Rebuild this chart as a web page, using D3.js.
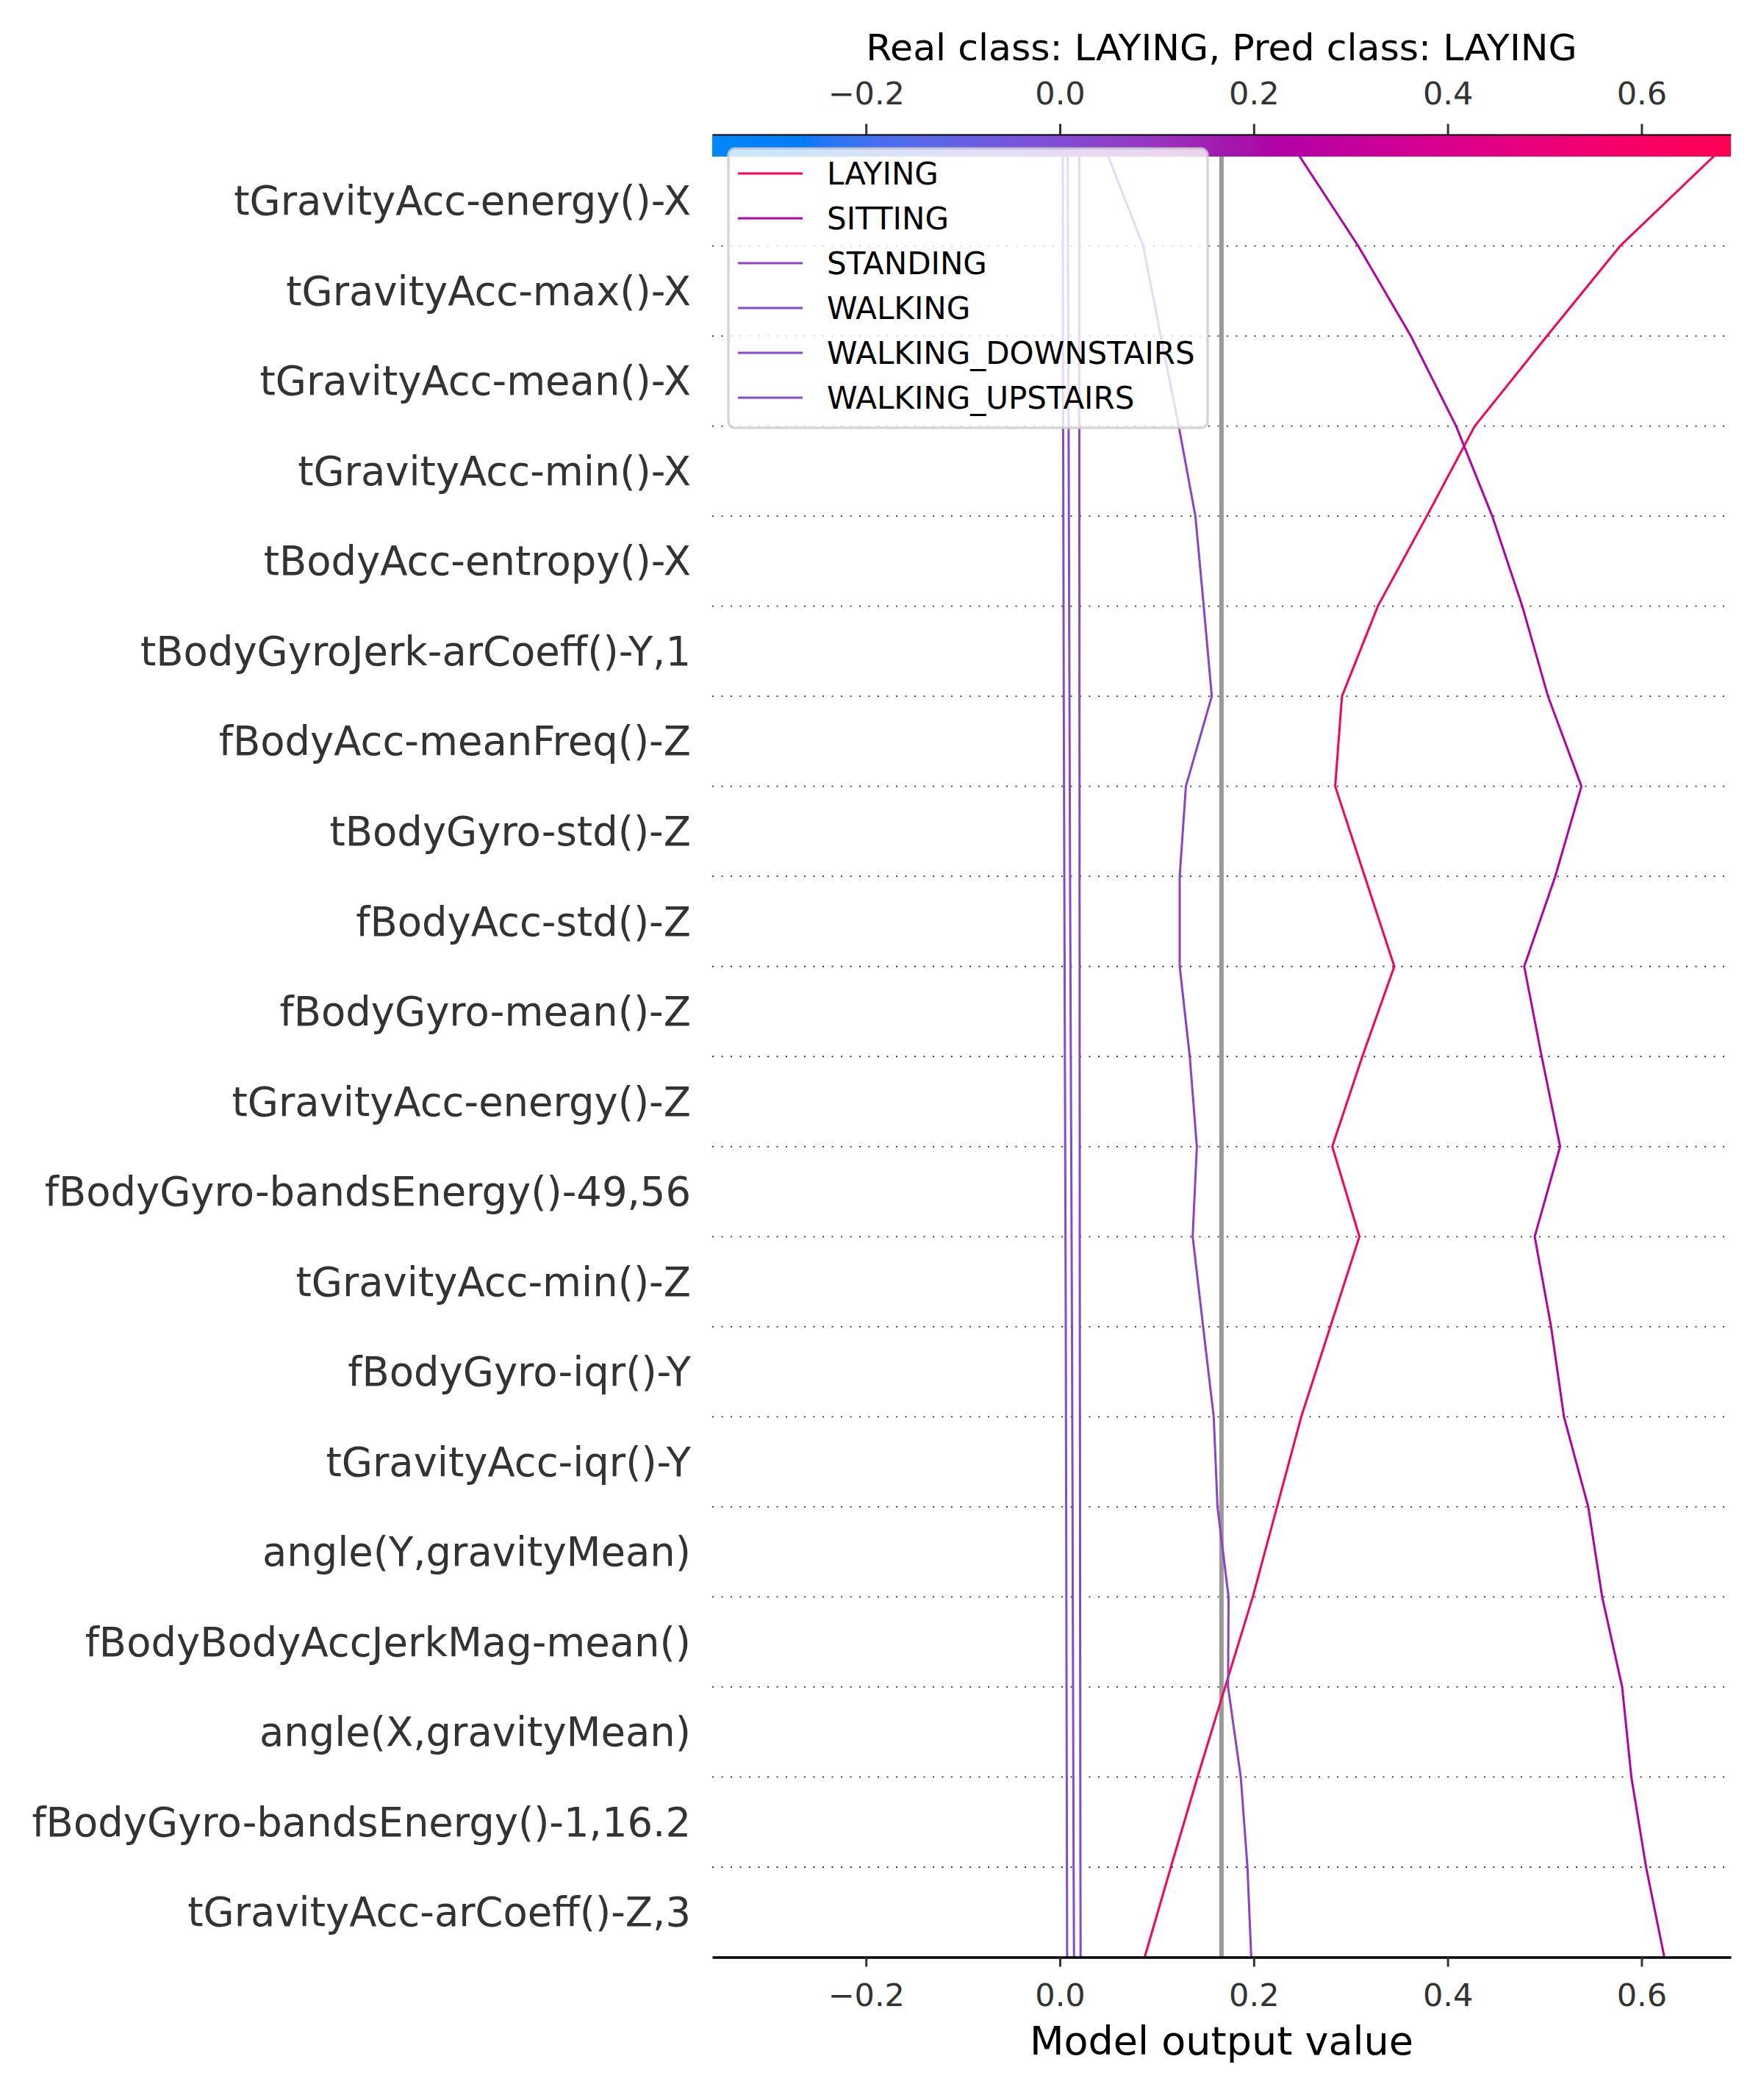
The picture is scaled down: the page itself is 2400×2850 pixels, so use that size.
<!DOCTYPE html>
<html>
<head>
<meta charset="utf-8">
<script src="https://cdn.jsdelivr.net/npm/d3@7"></script>
<style>
  body { margin: 0; background: #ffffff; }
  svg { display: block; }
  text { font-family: "DejaVu Sans", sans-serif; }
</style>
</head>
<body>
<svg id="chart" width="2400" height="2850"></svg>
<script>
// ---------------- DATA ----------------
// Feature names, top to bottom
const features = [
  "tGravityAcc-energy()-X",
  "tGravityAcc-max()-X",
  "tGravityAcc-mean()-X",
  "tGravityAcc-min()-X",
  "tBodyAcc-entropy()-X",
  "tBodyGyroJerk-arCoeff()-Y,1",
  "fBodyAcc-meanFreq()-Z",
  "tBodyGyro-std()-Z",
  "fBodyAcc-std()-Z",
  "fBodyGyro-mean()-Z",
  "tGravityAcc-energy()-Z",
  "fBodyGyro-bandsEnergy()-49,56",
  "tGravityAcc-min()-Z",
  "fBodyGyro-iqr()-Y",
  "tGravityAcc-iqr()-Y",
  "angle(Y,gravityMean)",
  "fBodyBodyAccJerkMag-mean()",
  "angle(X,gravityMean)",
  "fBodyGyro-bandsEnergy()-1,16.2",
  "tGravityAcc-arCoeff()-Z,3"
];

const classNames = ["LAYING", "SITTING", "STANDING", "WALKING", "WALKING_DOWNSTAIRS", "WALKING_UPSTAIRS"];

// Cumulative model output per class, listed from the bottom of the plot (index 0) to the top (index 20)
const laying = [0.0875, 0.1145, 0.142, 0.1705, 0.199, 0.224, 0.249, 0.279, 0.309, 0.281, 0.312,
                0.345, 0.3145, 0.284, 0.291, 0.328, 0.3785, 0.428, 0.5025, 0.578, 0.675];
const sitting = [0.6235, 0.6047, 0.5895, 0.580, 0.5594, 0.545, 0.520, 0.5067, 0.4898, 0.516, 0.497,
                 0.479, 0.511, 0.538, 0.5035, 0.477, 0.446, 0.4087, 0.362, 0.3077, 0.247];
const standing = [0.1974, 0.1935, 0.1866, 0.1735, 0.174, 0.1626, 0.1587, 0.1478, 0.137, 0.1413, 0.134,
                  0.1236, 0.1236, 0.130, 0.1567, 0.1484, 0.1398, 0.1226, 0.104, 0.0859, 0.0497];
const walking = [0.0075, 0.0073, 0.0071, 0.0069, 0.0067, 0.0065, 0.0063, 0.0061, 0.0058, 0.0055, 0.0052,
                 0.0049, 0.0046, 0.0043, 0.0040, 0.0038, 0.0036, 0.0034, 0.0032, 0.0031, 0.0030];
const walkingDownstairs = [0.0214, 0.0212, 0.0211, 0.0210, 0.0209, 0.0208, 0.0207, 0.0206, 0.0205, 0.0205, 0.0204,
                           0.0204, 0.0203, 0.0203, 0.0202, 0.0202, 0.0201, 0.0201, 0.0200, 0.0200, 0.0200];
const walkingUpstairs = [0.0146, 0.0142, 0.0139, 0.0136, 0.0133, 0.0131, 0.0128, 0.0125, 0.0121, 0.0117, 0.0113,
                         0.0109, 0.0105, 0.0102, 0.0099, 0.0096, 0.0093, 0.0090, 0.0087, 0.0083, 0.0080];

const baseValue = 0.1667;
const xTicks = [-0.2, 0.0, 0.2, 0.4, 0.6];
const xDomain = [-0.3586, 0.6922];
const titleText = "Real class: LAYING, Pred class: LAYING";
const xLabelText = "Model output value";

const seriesList = [laying, sitting, standing, walking, walkingDownstairs, walkingUpstairs];

// ---------------- LAYOUT ----------------
const plot = { left: 969, right: 2355, top: 212, bottom: 2662.5 };
const cbar = { top: 183, height: 30 };

const svg = d3.select("#chart");
svg.append("rect").attr("width", 2400).attr("height", 2850).attr("fill", "#ffffff");

const x = d3.scaleLinear().domain(xDomain).range([plot.left, plot.right]);
const nF = features.length;
const y = d3.scaleLinear().domain([0, nF]).range([plot.bottom, plot.top]);

// shap red_blue colormap (LCH interpolation)
function cmap(t) {
  t = Math.max(0, Math.min(1, t));
  const h = 266.93 + t * (380.32 - 266.93);
  const c = 70 + 20 * t;
  const l = t < 0.5 ? 54 - 28 * t : 40 + 28 * (t - 0.5);
  return d3.hcl(h, c, l).formatHex();
}
const colorFor = v => cmap((v - xDomain[0]) / (xDomain[1] - xDomain[0]));

// ---------------- GRID ----------------
const grid = svg.append("g");
d3.range(1, nF).forEach(k => {
  grid.append("line")
    .attr("x1", plot.left).attr("x2", plot.right - 8)
    .attr("y1", y(k)).attr("y2", y(k))
    .attr("stroke", "#333333")
    .attr("stroke-width", 1.8)
    .attr("stroke-dasharray", "2 10.5");
});

// base value line
svg.append("line")
  .attr("x1", x(baseValue)).attr("x2", x(baseValue))
  .attr("y1", plot.top).attr("y2", plot.bottom)
  .attr("stroke", "#999999").attr("stroke-width", 6);

// ---------------- LINES ----------------
const lineGen = d3.line().x(d => x(d)).y((d, i) => y(i));
const linesG = svg.append("g");
seriesList.forEach((s, i) => {
  linesG.append("path")
    .datum(s)
    .attr("d", lineGen)
    .attr("fill", "none")
    .attr("stroke", colorFor(s[s.length - 1]))
    .attr("stroke-width", 3)
    .attr("stroke-linejoin", "miter");
});

// ---------------- COLOR BAR ----------------
const defs = svg.append("defs");
const grad = defs.append("linearGradient").attr("id", "cbgrad")
  .attr("x1", "0%").attr("x2", "100%").attr("y1", "0%").attr("y2", "0%");
d3.range(0, 101).forEach(i => {
  const t = i / 100;
  grad.append("stop").attr("offset", (t * 100) + "%").attr("stop-color", cmap(t));
});
svg.append("rect")
  .attr("x", plot.left).attr("y", cbar.top)
  .attr("width", plot.right - plot.left).attr("height", cbar.height)
  .attr("fill", "url(#cbgrad)");

// top axis
const topAxis = svg.append("g")
  .attr("transform", `translate(0,${cbar.top})`)
  .call(d3.axisTop(x).tickValues(xTicks).tickFormat(d3.format(".1f")).tickSize(14.5).tickSizeOuter(0));
topAxis.select(".domain").attr("stroke", "#000000").attr("stroke-width", 2);
topAxis.selectAll(".tick line").attr("stroke", "#333333").attr("stroke-width", 3);
topAxis.selectAll(".tick text")
  .attr("y", -56).attr("dy", "0.35em")
  .attr("fill", "#333333").style("font-size", "43px").style("font-family", "DejaVu Sans, sans-serif");

// bottom axis
const botAxis = svg.append("g")
  .attr("transform", `translate(0,${plot.bottom})`)
  .call(d3.axisBottom(x).tickValues(xTicks).tickFormat(d3.format(".1f")).tickSize(13).tickSizeOuter(0));
botAxis.select(".domain").attr("stroke", "#000000").attr("stroke-width", 3.3);
botAxis.selectAll(".tick line").attr("stroke", "#333333").attr("stroke-width", 3);
botAxis.selectAll(".tick text")
  .attr("y", 51).attr("dy", "0.35em")
  .attr("fill", "#333333").style("font-size", "43px").style("font-family", "DejaVu Sans, sans-serif");

// ---------------- FEATURE LABELS ----------------
svg.append("g").selectAll("text")
  .data(features)
  .join("text")
  .attr("x", plot.left - 29)
  .attr("y", (d, i) => y(nF - i - 0.5))
  .attr("dy", "0.35em")
  .attr("text-anchor", "end")
  .attr("fill", "#333333")
  .style("font-size", "54.4px")
  .text(d => d);

// ---------------- TITLE & X LABEL ----------------
svg.append("text")
  .attr("x", (plot.left + plot.right) / 2).attr("y", 82)
  .attr("text-anchor", "middle").attr("fill", "#000000")
  .style("font-size", "50.5px")
  .text(titleText);

svg.append("text")
  .attr("x", (plot.left + plot.right) / 2).attr("y", 2795)
  .attr("text-anchor", "middle").attr("fill", "#000000")
  .style("font-size", "54px")
  .text(xLabelText);

// ---------------- LEGEND ----------------
const legend = { x: 991, y: 202, w: 652, h: 380, rowStart: 236, rowStep: 61 };
const lg = svg.append("g");
lg.append("rect")
  .attr("x", legend.x).attr("y", legend.y)
  .attr("width", legend.w).attr("height", legend.h)
  .attr("rx", 9).attr("ry", 9)
  .attr("fill", "#ffffff").attr("fill-opacity", 0.8)
  .attr("stroke", "#cccccc").attr("stroke-opacity", 0.8).attr("stroke-width", 3.5);
classNames.forEach((name, i) => {
  const s = seriesList[i];
  const yy = legend.rowStart + i * legend.rowStep;
  lg.append("line")
    .attr("x1", 1004).attr("x2", 1092)
    .attr("y1", yy).attr("y2", yy)
    .attr("stroke", colorFor(s[s.length - 1]))
    .attr("stroke-width", 3);
  lg.append("text")
    .attr("x", 1125).attr("y", yy).attr("dy", "0.35em")
    .attr("fill", "#000000")
    .style("font-size", "42px")
    .text(name);
});
</script>
</body>
</html>
